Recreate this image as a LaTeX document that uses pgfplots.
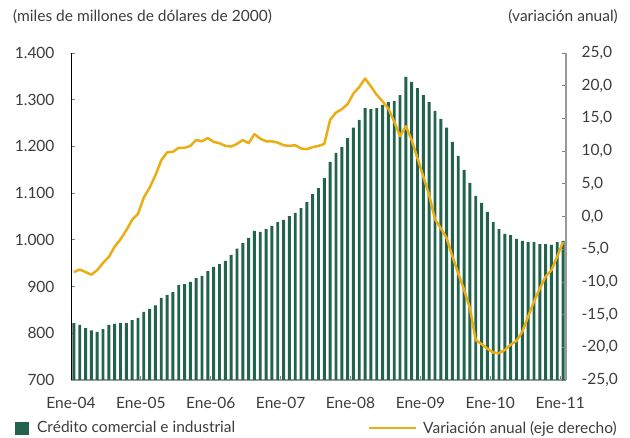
\documentclass[border=0pt]{standalone}
\usepackage{pgfplots}
\pgfplotsset{compat=1.18}
\usepackage{pgfplotstable}
\usepackage{fontspec}
\setmainfont{Lato}
\definecolor{barcol}{RGB}{33,99,76}
\definecolor{linecol}{RGB}{234,174,20}
\definecolor{txt}{RGB}{60,60,60}

\pgfplotstableread{
x v
0 822
1 818
2 811
3 806
4 803
5 809
6 818
7 820
8 822
9 822
10 828
11 833
12 846
13 852
14 860
15 876
16 882
17 888
18 903
19 905
20 910
21 918
22 923
23 933
24 942
25 948
26 955
27 968
28 981
29 993
30 1004
31 1019
32 1017
33 1023
34 1030
35 1038
36 1043
37 1051
38 1058
39 1068
40 1081
41 1098
42 1111
43 1132
44 1167
45 1186
46 1199
47 1218
48 1240
49 1257
50 1282
51 1280
52 1282
53 1289
54 1295
55 1297
56 1310
57 1349
58 1338
59 1325
60 1310
61 1295
62 1276
63 1259
64 1240
65 1210
66 1180
67 1150
68 1122
69 1094
70 1079
71 1060
72 1038
73 1023
74 1013
75 1010
76 1002
77 998
78 995
79 995
80 991
81 991
82 989
83 995
84 998
}\bars

\pgfplotstableread{
x v
0 -8.5
1 -8.1
2 -8.5
3 -8.9
4 -8.2
5 -7.1
6 -6.2
7 -4.6
8 -3.5
9 -2.1
10 -0.5
11 0.4
12 2.9
13 4.4
14 6.3
15 8.6
16 9.8
17 9.9
18 10.5
19 10.5
20 10.8
21 11.7
22 11.5
23 12.0
24 11.4
25 11.2
26 10.8
27 10.7
28 11.1
29 11.7
30 11.2
31 12.6
32 11.9
33 11.5
34 11.5
35 11.3
36 10.9
37 10.8
38 10.9
39 10.4
40 10.3
41 10.6
42 10.8
43 11.1
44 14.8
45 15.9
46 16.4
47 17.2
48 18.8
49 19.8
50 21.1
51 19.9
52 18.6
53 17.6
54 16.5
55 14.5
56 12.3
57 13.8
58 11.7
59 8.9
60 6.1
61 3.3
62 -0.4
63 -1.8
64 -3.3
65 -6.1
66 -8.7
67 -11.2
68 -14.0
69 -18.9
70 -19.5
71 -20.2
72 -20.8
73 -20.9
74 -20.4
75 -19.6
76 -19.0
77 -17.6
78 -15.3
79 -13.0
80 -11.0
81 -9.2
82 -8.2
83 -6.1
84 -3.9
}\var

\begin{document}
\begin{tikzpicture}[font=\fontsize{15.5bp}{18bp}\selectfont, text=txt]
\useasboundingbox (-71bp,-58bp) rectangle (559bp,380bp);
\begin{axis}[
  scale only axis, width=495bp, height=327bp,
  xmin=-0.5, xmax=84.5, ymin=700, ymax=1400,
  axis x line*=bottom, axis y line*=left,
  x axis line style={draw=gray!80, line width=1.6bp},
  y axis line style={draw=black, line width=0.8bp},
  ytick={700,800,...,1400},
  xtick={-0.5,11.5,23.5,35.5,47.5,59.5,71.5,83.5},
  xticklabels={Ene-04,Ene-05,Ene-06,Ene-07,Ene-08,Ene-09,Ene-10,Ene-11},
  tick align=inside, major tick length=4bp,
  tick style={draw=gray, line width=0.8bp},
  /pgf/number format/assume math mode=true,
  yticklabel style={/pgf/number format/1000 sep={.}, xshift=-13bp, text=txt},
  xticklabel style={yshift=-14bp, text=txt},
  legend style={at={(rel axis cs:0,0)}, anchor=west, xshift=-56bp, yshift=-48bp,
    draw=none, fill=none, inner sep=0pt, font=\fontsize{15.5bp}{18bp}\selectfont},
  legend cell align=left,
]
\addplot[ybar, bar width=0.5, fill=barcol, draw=none,
  legend image code/.code={\fill[barcol] (0bp,-7bp) rectangle (13.5bp,6.5bp); \path (20bp,0bp);}]
  table {\bars};
\addlegendentry{Crédito comercial e industrial}
\end{axis}
\begin{axis}[
  scale only axis, width=495bp, height=327bp,
  xmin=-0.5, xmax=84.5, ymin=-25, ymax=25,
  axis x line=none, axis y line*=right,
  y axis line style={draw=gray!80, line width=1.6bp},
  ytick={-25,-20,...,25},
  tick align=inside, major tick length=4bp,
  tick style={draw=gray, line width=0.8bp},
  /pgf/number format/assume math mode=true,
  yticklabel style={/pgf/number format/.cd, fixed, fixed zerofill, precision=1, use comma, /tikz/.cd, xshift=12bp, text=txt},
  legend style={at={(rel axis cs:1,0)}, anchor=east, xshift=53bp, yshift=-48bp,
    draw=none, fill=none, inner sep=0pt, font=\fontsize{15.5bp}{18bp}\selectfont},
  legend cell align=left,
]
\addplot[linecol, line width=2.5bp, line join=round,
  legend image code/.code={\draw[linecol, line width=2.5bp] (0bp,0bp) -- (47bp,0bp); \path (51bp,0bp);}]
  table {\var};
\addlegendentry{Variación anual (eje derecho)}
\end{axis}
\node[anchor=west, inner sep=0pt] at (-58bp,363bp) {(miles de millones de dólares de 2000)};
\node[anchor=east, inner sep=0pt] at (547bp,363bp) {(variación anual)};
\end{tikzpicture}
\end{document}
